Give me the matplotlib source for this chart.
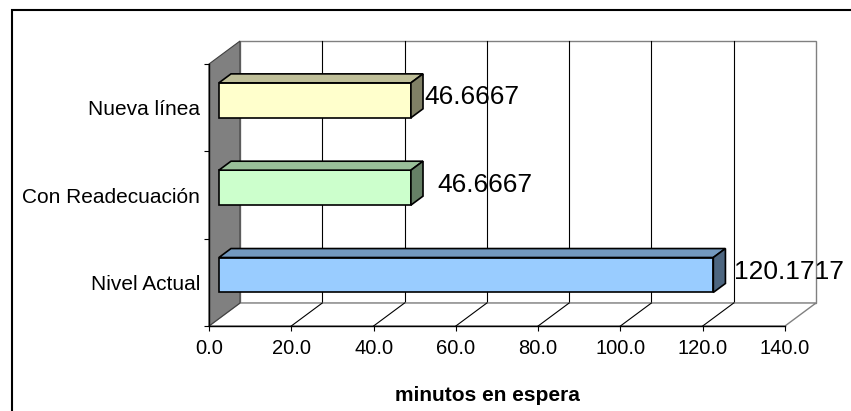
import matplotlib
matplotlib.use("Agg")
import matplotlib.pyplot as plt
from matplotlib.patches import Polygon, Rectangle
from matplotlib.lines import Line2D
from matplotlib.transforms import offset_copy

categories = ["Nivel Actual", "Con Readecuación", "Nueva línea"]
minutes = [120.1717, 46.6667, 46.6667]
face_colors = ["#99CCFF", "#CCFFCC", "#FFFFCC"]
top_colors = ["#7399BF", "#99BF99", "#BFBF99"]
side_colors = ["#4D6680", "#668066", "#808066"]
x_ticks = [0, 20, 40, 60, 80, 100, 120, 140]
label_pads = [9, 14, 1]

plt.rcParams['font.family'] = ['Liberation Sans', 'DejaVu Sans']

W, H = 851, 411
DEPTH = (31, 23)        # pixels of the 3d box depth (right, up)
F1, F2 = 0.32, 0.71     # bar front / back planes as fraction of depth
HALF = 0.2              # half bar thickness

fig = plt.figure(figsize=(W / 100, H / 100), dpi=100)
ax = fig.add_axes([209 / W, 85 / H, 576 / W, 262 / H])
ax.set_xlim(0, 140)
ax.set_ylim(-0.5, 2.5)


def shift(x, y, f):
    px = ax.transData.transform((x, y))
    px = (px[0] + f * DEPTH[0], px[1] + f * DEPTH[1])
    return tuple(ax.transData.inverted().transform(px))


def poly(pts, **kw):
    ax.add_patch(Polygon(pts, closed=True, clip_on=False, **kw))


ymin, ymax = -0.5, 2.5
xmax = x_ticks[-1]
grey = "#808080"

# back wall
poly([shift(0, ymin, 1), shift(xmax, ymin, 1), shift(xmax, ymax, 1), shift(0, ymax, 1)],
     facecolor="white", edgecolor=grey, lw=1.0, zorder=0.2)
for t in x_ticks[1:-1]:
    a, b = shift(t, ymin, 1), shift(t, ymax, 1)
    ax.add_line(Line2D([a[0], b[0]], [a[1], b[1]], color="black", lw=0.8, clip_on=False, zorder=0.3))

# floor
poly([(0, ymin), (xmax, ymin), shift(xmax, ymin, 1), shift(0, ymin, 1)],
     facecolor="white", edgecolor=grey, lw=1.0, zorder=0.4)
for t in x_ticks[1:-1]:
    a = shift(t, ymin, 1)
    ax.add_line(Line2D([t, a[0]], [ymin, a[1]], color="black", lw=0.8, clip_on=False, zorder=0.5))

# left wall
poly([(0, ymin), (0, ymax), shift(0, ymax, 1), shift(0, ymin, 1)],
     facecolor=grey, edgecolor="#404040", lw=0.8, zorder=0.6)

# bars
front = offset_copy(ax.transData, fig=fig, x=F1 * DEPTH[0], y=F1 * DEPTH[1], units='dots')
pos = list(range(len(categories)))
ax.barh(pos, minutes, height=2 * HALF, color=face_colors, edgecolor="black",
        lw=1.2, transform=front, zorder=3, clip_on=False)
for c, v, tc, sc, pad in zip(pos, minutes, top_colors, side_colors, label_pads):
    poly([shift(0, c + HALF, F1), shift(v, c + HALF, F1), shift(v, c + HALF, F2), shift(0, c + HALF, F2)],
         facecolor=tc, edgecolor="black", lw=1.2, zorder=3)
    poly([shift(v, c - HALF, F1), shift(v, c + HALF, F1), shift(v, c + HALF, F2), shift(v, c - HALF, F2)],
         facecolor=sc, edgecolor="black", lw=1.2, zorder=3)
    ax.annotate(f"{v:.4f}", xy=(v, c), xycoords=front,
                xytext=((F2 - F1) * DEPTH[0] + pad, 3), textcoords='offset pixels',
                ha='left', va='center', fontsize=19, zorder=4, annotation_clip=False)

# axes
for s in ("top", "right"):
    ax.spines[s].set_visible(False)
for s in ("left", "bottom"):
    ax.spines[s].set_color("black")
    ax.spines[s].set_linewidth(1.0)

ax.set_xticks(x_ticks)
ax.set_xticklabels([f"{t:.1f}" for t in x_ticks])
ax.tick_params(axis='x', length=3.6, width=0.8, pad=6, labelsize=14.5)
ax.set_yticks([-0.5, 0.5, 1.5, 2.5])
ax.set_yticklabels([])
ax.set_yticks(pos, minor=True)
ax.set_yticklabels(categories, minor=True)
ax.tick_params(axis='y', which='major', length=3.6, width=0.8)
ax.tick_params(axis='y', which='minor', length=0, pad=6.5, labelsize=15)
ax.set_facecolor("none")

ax.set_xlabel("minutos en espera", fontweight='bold', fontsize=15, va='center')
ax.xaxis.set_label_coords(0.4835, -0.265)

# chart frame
fig.add_artist(Rectangle((12 / W, -0.1), 1.0, 1.1 - 10 / H, transform=fig.transFigure,
                         fill=False, edgecolor="black", lw=1.5))

fig.savefig("out.png", dpi=100)
